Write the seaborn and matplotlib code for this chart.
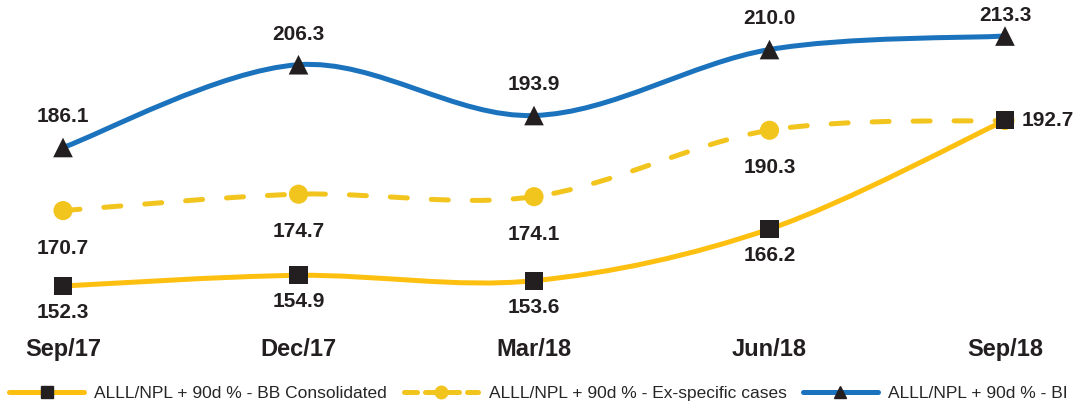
import matplotlib
matplotlib.use("Agg")
import matplotlib.pyplot as plt
from matplotlib.path import Path
from matplotlib.patches import PathPatch
from matplotlib.lines import Line2D
import seaborn as sns
import pandas as pd

# Quarterly coverage ratios
quarters = ["Sep/17", "Dec/17", "Mar/18", "Jun/18", "Sep/18"]
bb_consolidated = [152.3, 154.9, 153.6, 166.2, 192.7]
ex_specific = [170.7, 174.7, 174.1, 190.3, 192.7]
bi = [186.1, 206.3, 193.9, 210.0, 213.3]

series_names = [
    "ALLL/NPL + 90d % - BB Consolidated",
    "ALLL/NPL + 90d % - Ex-specific cases",
    "ALLL/NPL + 90d % - BI",
]

YELLOW = "#FDC010"
YELLOW_DASH = "#F2C41E"
BLUE = "#1B72BD"
INK = "#231F20"

sns.set_theme(style="white")
plt.rcParams["font.family"] = ["Liberation Sans", "DejaVu Sans"]

W, H = 1088, 411
fig = plt.figure(figsize=(W / 100, H / 100), dpi=100)
ax = fig.add_axes([0, 81 / 411, 1, 330 / 411])

xs = list(range(len(quarters)))


def smooth_path(x, y):
    """Cardinal (Catmull-Rom) Bezier path through the points."""
    pts = list(zip(x, y))
    verts = [pts[0]]
    codes = [Path.MOVETO]
    n = len(pts)
    for i in range(n - 1):
        p0 = pts[i - 1] if i > 0 else pts[i]
        p1 = pts[i]
        p2 = pts[i + 1]
        p3 = pts[i + 2] if i + 2 < n else pts[i + 1]
        c1 = (p1[0] + (p2[0] - p0[0]) / 6, p1[1] + (p2[1] - p0[1]) / 6)
        c2 = (p2[0] - (p3[0] - p1[0]) / 6, p2[1] - (p3[1] - p1[1]) / 6)
        verts += [c1, c2, p2]
        codes += [Path.CURVE4] * 3
    return Path(verts, codes)


LW = 3.6
ax.add_patch(PathPatch(smooth_path(xs, bi), fill=False, edgecolor=BLUE,
                       lw=LW, capstyle="round", zorder=2))
ax.add_patch(PathPatch(smooth_path(xs, ex_specific), fill=False,
                       edgecolor=YELLOW_DASH, lw=LW, capstyle="round",
                       linestyle=(0, (3.4, 4.8)), zorder=2))
ax.add_patch(PathPatch(smooth_path(xs, bb_consolidated), fill=False,
                       edgecolor=YELLOW, lw=LW, capstyle="round", zorder=2))

df = pd.DataFrame({"x": xs, "bb": bb_consolidated, "ex": ex_specific, "bi": bi})
sns.scatterplot(data=df, x="x", y="ex", marker="o", s=190, color=YELLOW_DASH,
                edgecolor="none", ax=ax, zorder=3, legend=False)
sns.scatterplot(data=df, x="x", y="bi", marker="^", s=200, color=INK,
                edgecolor="none", ax=ax, zorder=4, legend=False)
sns.scatterplot(data=df, x="x", y="bb", marker="s", s=170, color=INK,
                edgecolor="none", ax=ax, zorder=4, legend=False)

label_kw = dict(textcoords="offset points", ha="center", va="center",
                fontsize=15, fontweight="bold", color=INK)
bi_offsets = [22, 22, 22, 22, 14.5]
for i, v in enumerate(bi):
    ax.annotate(f"{v:.1f}", (i, v), xytext=(0, bi_offsets[i]), **label_kw)
for i, v in enumerate(ex_specific[:-1]):
    ax.annotate(f"{v:.1f}", (i, v), xytext=(0, -27), **label_kw)
for i, v in enumerate(bb_consolidated[:-1]):
    ax.annotate(f"{v:.1f}", (i, v), xytext=(0, -19), **label_kw)
ax.annotate(f"{bb_consolidated[-1]:.1f}", (len(xs) - 1, bb_consolidated[-1]),
            xytext=(31, 0), **label_kw)

ax.set_xlim(-63 / 235.5, (W - 63) / 235.5)
ax.set_ylim(152.3 - 44 / 4.098, 152.3 + 286 / 4.098)
ax.set_xticks(xs)
ax.set_xticklabels(quarters, fontsize=17, fontweight="bold", color=INK)
ax.tick_params(axis="x", length=0, pad=6)
ax.set_yticks([])
ax.set_xlabel("")
ax.set_ylabel("")
for s in ax.spines.values():
    s.set_visible(False)

handles = [
    Line2D([], [], color=YELLOW, lw=LW, marker="s", markersize=8,
           markerfacecolor=INK, markeredgecolor=INK),
    Line2D([], [], color=YELLOW_DASH, lw=LW, linestyle=(0, (2.6, 1.6)),
           marker="o", markersize=9, markerfacecolor=YELLOW_DASH,
           markeredgecolor=YELLOW_DASH, dash_capstyle="round"),
    Line2D([], [], color=BLUE, lw=LW, marker="^", markersize=8,
           markerfacecolor=INK, markeredgecolor=INK),
]
fig.legend(handles, series_names, loc="lower center", bbox_to_anchor=(0.495, -0.005),
           ncol=3, frameon=False, fontsize=12.5, handlelength=4.3,
           handletextpad=0.6, columnspacing=0.95, borderaxespad=0.3)

fig.savefig("out.png", dpi=100)
